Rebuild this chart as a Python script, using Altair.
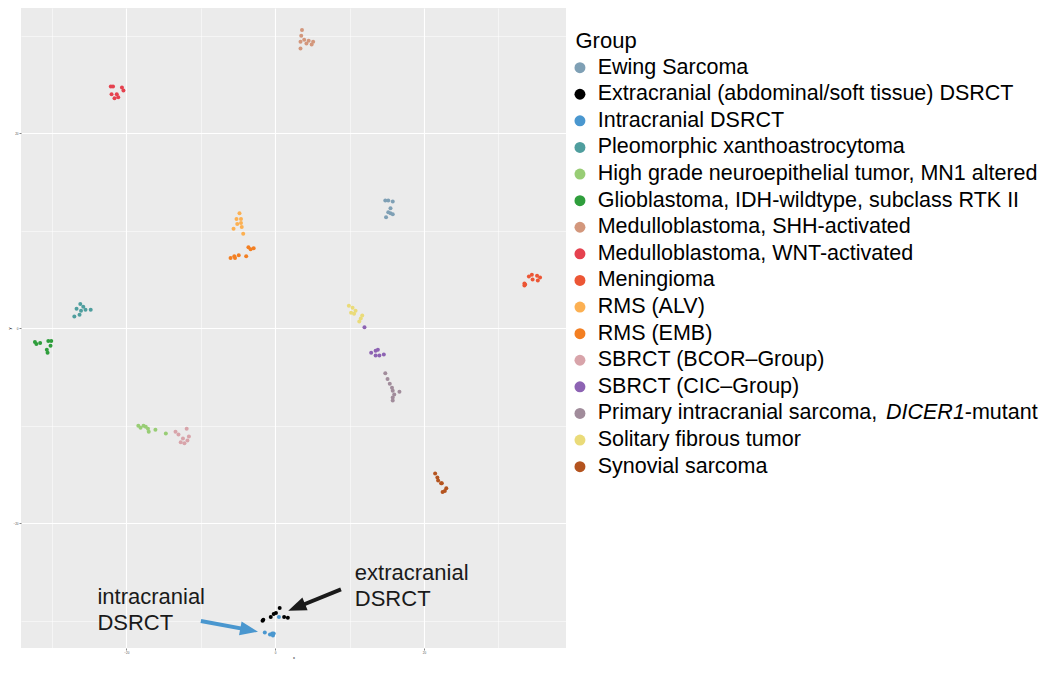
import altair as alt
import pandas as pd

FONT = "Liberation Sans"

groups = [
    "Ewing Sarcoma",
    "Extracranial (abdominal/soft tissue) DSRCT",
    "Intracranial DSRCT",
    "Pleomorphic xanthoastrocytoma",
    "High grade neuroepithelial tumor, MN1 altered",
    "Glioblastoma, IDH-wildtype, subclass RTK II",
    "Medulloblastoma, SHH-activated",
    "Medulloblastoma, WNT-activated",
    "Meningioma",
    "RMS (ALV)",
    "RMS (EMB)",
    "SBRCT (BCOR\u2013Group)",
    "SBRCT (CIC\u2013Group)",
    "Primary intracranial sarcoma, DICER1-mutant",
    "Solitary fibrous tumor",
    "Synovial sarcoma",
]
colors = [
    "#7FA0B5", "#000000", "#4A97CF", "#4F9E9E", "#98CD75", "#2F9E3C",
    "#D3977C", "#E5424F", "#EC5635", "#FCB052", "#F37F22", "#D8A4AA",
    "#8D63B3", "#A18C9B", "#EADB79", "#B4541F",
]

ewing_x = [14.8, 15.2, 15.8, 15.5, 15.2, 15.5, 15.8, 14.9]
ewing_y = [13.1, 13.1, 13.0, 12.3, 11.9, 11.8, 11.7, 11.4]
extra_x = [-1.7, -1.6, -0.6, -0.2, 0.1, 0.6, 1.2, 1.7]
extra_y = [-30.0, -29.9, -29.6, -29.3, -29.2, -28.7, -29.6, -29.7]
intra_x = [0.5, -1.4, -0.7, -0.4, -0.2, -0.3]
intra_y = [-29.6, -31.2, -31.4, -31.3, -31.3, -31.5]
pxa_x = [-26.2, -26.7, -25.8, -26.1, -25.5, -24.8, -27.0, -26.3]
pxa_y = [2.5, 2.0, 2.2, 1.8, 1.9, 1.9, 1.2, 1.4]
mn1_x = [-18.4, -18.1, -17.7, -17.4, -17.1, -17.0, -16.1, -14.7]
mn1_y = [-10.0, -10.2, -10.0, -10.1, -10.3, -10.6, -10.4, -10.8]
gbm_x = [-32.3, -32.1, -31.6, -30.5, -30.1, -30.2, -30.7, -30.6]
gbm_y = [-1.4, -1.6, -1.5, -1.3, -1.3, -1.8, -2.2, -2.5]
shh_x = [3.6, 3.5, 3.4, 3.9, 4.5, 5.1, 4.2, 4.9, 3.4]
shh_y = [30.6, 30.0, 29.4, 29.6, 29.5, 29.4, 29.2, 29.1, 28.7]
wnt_x = [-22.1, -21.8, -20.6, -20.4, -22.0, -21.3, -21.6, -21.1]
wnt_y = [24.8, 24.8, 24.7, 24.4, 24.0, 24.0, 23.6, 23.7]
men_x = [34.1, 34.5, 35.2, 35.6, 34.6, 35.3, 33.5, 33.5, 33.6]
men_y = [5.3, 5.5, 5.4, 5.2, 5.0, 4.9, 4.6, 4.4, 4.5]
alv_x = [-4.8, -5.2, -4.6, -5.1, -4.6, -4.5, -5.6, -4.3]
alv_y = [11.8, 11.2, 11.2, 10.7, 10.8, 10.4, 10.2, 9.7]
emb_x = [-3.6, -3.3, -2.9, -6.0, -5.5, -5.4, -4.9, -3.9]
emb_y = [8.3, 8.1, 8.2, 7.2, 7.4, 7.2, 7.5, 7.4]
bcor_x = [-13.4, -13.0, -11.9, -12.4, -11.6, -11.8, -12.7, -12.2]
bcor_y = [-10.6, -10.9, -10.3, -11.3, -11.1, -11.5, -11.7, -11.8]
cic_x = [12.0, 12.9, 13.5, 13.8, 13.5, 14.0, 14.6]
cic_y = [0.1, -2.5, -2.3, -2.2, -2.8, -2.8, -2.7]
dicer_x = [14.8, 15.1, 15.4, 15.7, 15.8, 16.7, 16.0, 15.8, 15.8]
dicer_y = [-4.6, -5.2, -5.7, -6.1, -6.4, -6.5, -6.8, -7.1, -7.4]
sft_x = [9.9, 10.4, 10.8, 10.2, 10.6, 11.7, 11.5, 11.3]
sft_y = [2.3, 2.1, 1.8, 1.6, 1.5, 1.3, 1.0, 0.7]
syn_x = [21.5, 21.8, 21.9, 22.3, 22.4, 23.0, 22.8, 22.5]
syn_y = [-14.9, -15.3, -15.6, -15.9, -15.9, -16.4, -16.7, -16.8]

cluster_x = [ewing_x, extra_x, intra_x, pxa_x, mn1_x, gbm_x, shh_x, wnt_x,
             men_x, alv_x, emb_x, bcor_x, cic_x, dicer_x, sft_x, syn_x]
cluster_y = [ewing_y, extra_y, intra_y, pxa_y, mn1_y, gbm_y, shh_y, wnt_y,
             men_y, alv_y, emb_y, bcor_y, cic_y, dicer_y, sft_y, syn_y]

rows = []
for g, xs_, ys_ in zip(groups, cluster_x, cluster_y):
    for xv, yv in zip(xs_, ys_):
        rows.append({"x": xv, "y": yv, "group": g})
points_df = pd.DataFrame(rows)

# annotation data (data coordinates)
label_x = [10.7, -23.9]
label_y = [-25.8, -28.3]
label_text = [["extracranial", "DSRCT"], ["intracranial", "DSRCT"]]

arrow_x = [8.84, -9.99]
arrow_y = [-26.77, -30.02]
arrow_x2 = [2.76, -3.37]
arrow_y2 = [-28.66, -30.96]
tip_x = [1.76, -2.31]
tip_y = [-28.96, -31.12]

x_domain = [-34.17, 39.09]
y_domain = [-32.79, 32.85]
x_ticks = [-30, -20, -10, 0, 10, 20, 30]
y_ticks = [-30, -20, -10, 0, 10, 20, 30]

major_test = "datum.value % 20 === 0"

def axis(title, ticks):
    return alt.Axis(
        title=title, values=ticks, domain=False,
        labelExpr=f"{major_test} ? datum.label : ''",
        labelFontSize=3, labelColor="#4D4D4D", labelPadding=1,
        tickColor="#333333", tickSize=2, tickWidth=0.6,
        tickOpacity={"condition": {"test": major_test, "value": 1}, "value": 0},
        grid=True, gridColor="white",
        gridWidth={"condition": {"test": major_test, "value": 1.1}, "value": 0.5},
        titleFontSize=4, titleFontWeight="normal", titlePadding=1, titleColor="#000000",
    )

xs = alt.X("x:Q", scale=alt.Scale(domain=x_domain, nice=False, zero=False), axis=axis("x", x_ticks))
ys = alt.Y("y:Q", scale=alt.Scale(domain=y_domain, nice=False, zero=False), axis=axis("y", y_ticks))

LABEL_SIZE = 21.5

legend = alt.Legend(
    orient="none", legendX=554.5, legendY=22.9, padding=0,
    title="Group", titleFontSize=22, titleFontWeight="normal", titleColor="#000000",
    titlePadding=4, titleFont=FONT,
    labelFontSize=LABEL_SIZE, labelColor="#000000", labelFont=FONT, labelLimit=700,
    labelOffset=7, symbolOffset=-6.3, rowPadding=3.6,
    symbolType="circle", symbolSize=120, symbolStrokeWidth=0, symbolOpacity=1,
    labelExpr="indexof(datum.label, 'DICER1') >= 0 ? 'Primary intracranial sarcoma,' : datum.label",
)

pts = alt.Chart(points_df).mark_circle(size=16, opacity=1).encode(
    x=xs, y=ys,
    color=alt.Color("group:N", scale=alt.Scale(domain=groups, range=colors), legend=legend),
)

labels_df = pd.DataFrame({"x": label_x, "y": label_y, "t": label_text})
labels = alt.Chart(labels_df).mark_text(
    align="left", baseline="alphabetic", fontSize=22, lineHeight=26, font=FONT, color="#1A1A1A"
).encode(x="x:Q", y="y:Q", text="t")

arrow_colors = ["#1A1A1A", "#4A97CF"]
arrow_angles = [248, 100.6]
head_path = "M0,0 L0.5,1.3 L-0.5,1.3 Z"

arrow_layers = []
for i in range(2):
    adf = pd.DataFrame({"x": [arrow_x[i]], "y": [arrow_y[i]], "x2": [arrow_x2[i]], "y2": [arrow_y2[i]],
                        "tx": [tip_x[i]], "ty": [tip_y[i]]})
    rule = alt.Chart(adf).mark_rule(color=arrow_colors[i], strokeWidth=4).encode(
        x="x:Q", y="y:Q", x2="x2:Q", y2="y2:Q")
    head = alt.Chart(adf).mark_point(
        shape=head_path, filled=True, size=767, angle=arrow_angles[i],
        color=arrow_colors[i], opacity=1, strokeWidth=0,
    ).encode(x=alt.X("tx:Q"), y=alt.Y("ty:Q"))
    arrow_layers += [rule, head]

# italic part of the DICER1 legend entry
dicer_df = pd.DataFrame({"a": ["DICER1"], "b": ["-mutant"]})
dicer_it = alt.Chart(dicer_df).mark_text(
    align="left", baseline="middle", fontSize=LABEL_SIZE, font=FONT, fontStyle="italic", color="#000000"
).encode(text="a:N", x=alt.value(865), y=alt.value(405))
dicer_rest = alt.Chart(dicer_df).mark_text(
    align="left", baseline="middle", fontSize=LABEL_SIZE, font=FONT, color="#000000"
).encode(text="b:N", x=alt.value(943.8), y=alt.value(405))

chart = alt.layer(pts, *arrow_layers, labels, dicer_it, dicer_rest).properties(
    width=545, height=640,
    autosize=alt.AutoSizeParams(type="none"),
    padding={"left": 13, "top": 0, "right": 476, "bottom": 12},
).configure(font=FONT, background="white").configure_view(fill="#EBEBEB", stroke=None)

chart.save("out.html", embed_options={"renderer": "svg", "actions": False})
